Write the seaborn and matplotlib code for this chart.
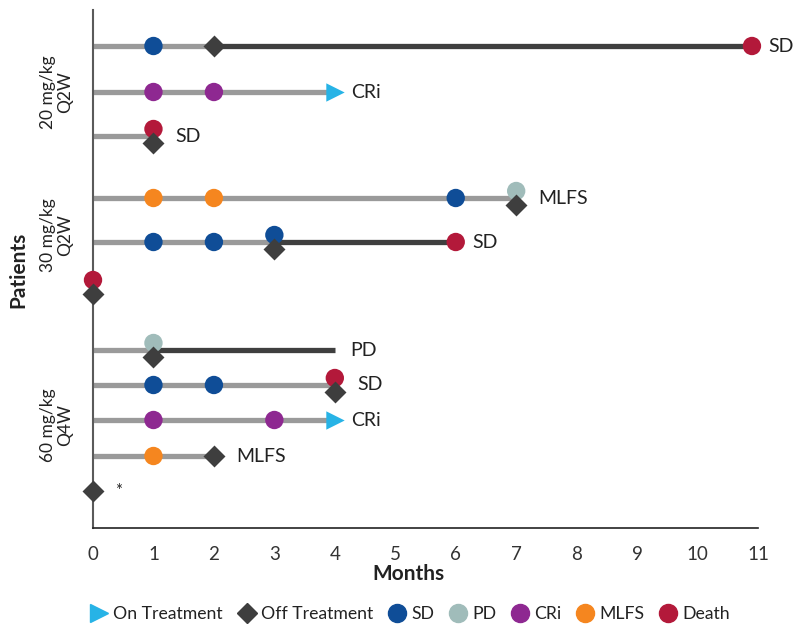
import matplotlib
matplotlib.use("Agg")
import matplotlib.pyplot as plt
import matplotlib.transforms as mtransforms
from matplotlib.lines import Line2D
import pandas as pd
import seaborn as sns

# ---- data -------------------------------------------------------------
group_labels = ["20 mg/kg\nQ2W", "30 mg/kg\nQ2W", "60 mg/kg\nQ4W"]
patient_group = [0, 0, 0, 1, 1, 1, 2, 2, 2, 2, 2]
treatment_end = [2, 4, 1, 7, 3, 0, 1, 4, 4, 2, 0]
followup_end = [10.9, None, None, None, 6, None, 4, None, None, None, None]
on_treatment = [False, True, False, False, False, False, False, False, True, False, False]
best_response = ["SD", "CRi", "SD", "MLFS", "SD", "", "PD", "SD", "CRi", "MLFS", "*"]

assess_patient = [0, 0, 1, 1, 2, 3, 3, 3, 3, 4, 4, 4, 4, 5, 6, 7, 7, 7, 8, 8, 9]
assess_month = [1, 10.9, 1, 2, 1, 1, 2, 6, 7, 1, 2, 3, 6, 0, 1, 1, 2, 4, 1, 3, 1]
assess_status = ["SD", "Death", "CRi", "CRi", "Death", "MLFS", "MLFS", "SD", "PD",
                 "SD", "SD", "SD", "Death", "Death", "PD", "SD", "SD", "Death",
                 "CRi", "CRi", "MLFS"]

months = list(range(12))
status_order = ["SD", "PD", "CRi", "MLFS", "Death"]

# ---- layout -----------------------------------------------------------
row_y = [46, 92, 136, 198, 242, 287, 350, 385, 420, 456, 491]
group_y = [92, 235, 425]
nudge = 7

status_colors = {"SD": "#0F4D97", "PD": "#A0BCBA", "CRi": "#8E2891",
                 "MLFS": "#F5861F", "Death": "#B3193A"}
on_color = "#27B3E6"
off_color = "#3E3E3E"
bar_gray = "#9A9A9A"
bar_dark = "#3F3F3F"

sns.set_style("white")
plt.rcParams["font.family"] = ["Lato", "DejaVu Sans"]
text_color = "#222222"

fig = plt.figure(figsize=(7.96, 6.24), dpi=100)
ax = fig.add_axes([93 / 796, 1 - 528 / 624, 665 / 796, 518 / 624])

# treatment / follow-up bars
for i, y in enumerate(row_y):
    if treatment_end[i] > 0:
        ax.plot([0, treatment_end[i]], [y, y], color=bar_gray, lw=3.8,
                solid_capstyle="butt", zorder=1)
    if followup_end[i] is not None:
        ax.plot([treatment_end[i], followup_end[i]], [y, y], color=bar_dark,
                lw=3.8, solid_capstyle="butt", zorder=1)

off_keys = {(i, treatment_end[i]) for i in range(len(row_y)) if not on_treatment[i]}
assess_keys = set(zip(assess_patient, assess_month))

events = pd.DataFrame({"patient": assess_patient, "month": assess_month,
                       "status": assess_status})
events["y"] = [row_y[p] - nudge if (p, m) in off_keys else row_y[p]
               for p, m in zip(events["patient"], events["month"])]

stops = pd.DataFrame({"patient": range(len(row_y)), "month": treatment_end,
                      "ongoing": on_treatment})
stops["y"] = [row_y[p] + nudge if (not o and (p, m) in assess_keys) else row_y[p]
              for p, m, o in zip(stops["patient"], stops["month"], stops["ongoing"])]

sns.scatterplot(data=events, x="month", y="y", hue="status", hue_order=status_order,
                palette=status_colors, s=175, linewidth=0, legend=False,
                ax=ax, zorder=3, clip_on=False)
sns.scatterplot(data=stops[~stops["ongoing"]], x="month", y="y", marker="D",
                color=off_color, s=125, linewidth=0, legend=False,
                ax=ax, zorder=4, clip_on=False)
sns.scatterplot(data=stops[stops["ongoing"]], x="month", y="y", marker=">",
                color=on_color, s=175, linewidth=0, legend=False,
                ax=ax, zorder=4, clip_on=False)

# best response labels at the end of each row
for i, y in enumerate(row_y):
    if not best_response[i]:
        continue
    row_months = [m for p, m in zip(assess_patient, assess_month) if p == i]
    end = max([treatment_end[i]] + row_months +
              ([followup_end[i]] if followup_end[i] is not None else []))
    if followup_end[i] is not None and end not in row_months:
        dx = 11
    elif (i, end) in off_keys:
        dx = 16
    else:
        dx = 12
    ax.annotate(best_response[i], xy=(end, y), xytext=(dx, 0),
                textcoords="offset points", ha="left", va="center",
                fontsize=14 if best_response[i] != "*" else 12,
                color=text_color, annotation_clip=False)

# axes styling
ax.set_xlim(0, 11)
ax.set_ylim(528, 10)
ax.set_xticks(months)
ax.set_xticklabels([str(m) for m in months])
ax.set_yticks(row_y)
ax.set_yticklabels([])
for side in ("top", "right"):
    ax.spines[side].set_visible(False)
ax.spines["left"].set_color("#5A5A5A")
ax.spines["left"].set_linewidth(1.5)
ax.spines["bottom"].set_color("#222222")
ax.spines["bottom"].set_linewidth(1.2)
ax.tick_params(axis="y", length=6, width=1.2, color="#5A5A5A", direction="out")
ax.tick_params(axis="x", length=7, width=1.2, color="#333333", direction="out",
               labelsize=13.5, labelcolor="#333333", pad=6)

ax.set_xlabel("Months", fontsize=15, fontweight="bold", color=text_color)
ax.xaxis.label.set_va("center")
ax.xaxis.set_label_coords(0.474, -0.089)
ax.set_ylabel("")
fig.text(18 / 796, 1 - 270 / 624, "Patients", rotation=90, ha="center",
         va="center", fontsize=15, fontweight="bold", color=text_color)

# dose group labels
trans = mtransforms.blended_transform_factory(ax.transAxes, ax.transData)
for label, gy in zip(group_labels, group_y):
    ax.text(-0.055, gy, label, rotation=90, ha="center", va="center",
            multialignment="center", fontsize=12.5, color=text_color,
            transform=trans, linespacing=1.05)

# legend
handles = [
    Line2D([], [], marker=">", linestyle="", color=on_color, markersize=13),
    Line2D([], [], marker="D", linestyle="", color=off_color, markersize=10.5),
] + [Line2D([], [], marker="o", linestyle="", color=status_colors[s], markersize=13)
     for s in status_order]
labels = ["On Treatment", "Off Treatment"] + status_order
fig.legend(handles, labels, loc="center", bbox_to_anchor=(410 / 796, 1 - 614 / 624),
           ncol=7, frameon=False, fontsize=12.7, handletextpad=0.3,
           columnspacing=0.85, handlelength=1.0, labelcolor=text_color)

fig.savefig("out.png", dpi=100)
